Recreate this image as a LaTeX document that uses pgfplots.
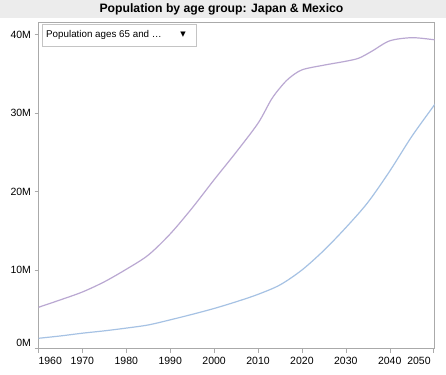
\documentclass[border=0pt]{standalone}
\usepackage{fontspec}
\setmainfont{Liberation Sans}
\newfontfamily\symfont{DejaVu Sans}
\usepackage{pgfplots}
\pgfplotsset{compat=1.18}
\definecolor{jpn}{RGB}{186,168,210}
\definecolor{mex}{RGB}{166,194,228}
\definecolor{band}{RGB}{236,236,236}
\definecolor{frame}{RGB}{170,170,170}
\begin{document}
\begin{tikzpicture}[x=1pt,y=1pt]
\useasboundingbox (0,0) rectangle (446,374);
\fill[white] (0,0) rectangle (446,374);
\fill[band] (0,356) rectangle (446,374);
\node[font=\fontsize{12.2}{14}\selectfont\bfseries] at (221.5,365) {Population by age group: Japan \& Mexico};
\begin{axis}[
  at={(38.5pt,25.5pt)}, anchor=south west,
  width=396pt, height=326.5pt, scale only axis,
  xmin=1960, xmax=2050.2, ymin=0, ymax=41.6,
  axis line style={frame}, 
  tick style={frame, thin},
  tick align=outside, major tick length=4pt,
  xtick={1960,1970,1980,1990,2000,2010,2020,2030,2040,2050},
  xticklabels={\makebox[0pt][l]{1960},1970,1980,1990,2000,2010,2020,2030,2040,\makebox[0pt][r]{2050\hspace{3pt}}},
  ytick={10,20,30,40},
  yticklabels={10M,20M,30M,40M},
  extra y ticks={0},
  extra y tick labels={0M},
  extra y tick style={yticklabel style={yshift=6pt}},
  xtick pos=bottom, ytick pos=left,
  tick label style={font=\fontsize{10.5}{12}\selectfont, text=black},
  /pgf/number format/assume math mode=true,
  xticklabel style={yshift=-1pt},
  yticklabel style={xshift=0pt},
  clip=true,
]
\addplot[jpn, line width=1.2pt, smooth, tension=0.5] coordinates {
(1960,5.25) (1965,6.2) (1970,7.2) (1975,8.5) (1980,10.1) (1985,11.9)
(1990,14.6) (1995,17.9) (2000,21.5) (2005,25.0) (2010,28.7) (2013,31.7)
(2015,33.2) (2017,34.4) (2020,35.5) (2025,36.1) (2030,36.6) (2033,37.0)
(2036,37.9) (2040,39.2) (2045,39.6) (2050,39.35) (2050.2,39.34)
};
\addplot[mex, line width=1.2pt, smooth, tension=0.5] coordinates {
(1960,1.3) (1965,1.6) (1970,1.95) (1975,2.25) (1980,2.6) (1985,3.0)
(1990,3.65) (1995,4.35) (2000,5.1) (2005,5.95) (2010,6.9) (2015,8.1)
(2020,10.0) (2025,12.5) (2030,15.4) (2035,18.6) (2040,22.6) (2045,27.0)
(2050,30.9) (2050.2,31.05)
};
\end{axis}
\draw[frame!70, fill=white] (42,328) rectangle (196,349.5);
\node[anchor=west, font=\fontsize{9.8}{11}\selectfont, inner sep=0pt] at (46,338.75) {Population ages 65 and \dots};
\node[font=\symfont\fontsize{7}{8}\selectfont, inner sep=0pt] at (183,339.5) {▼};
\end{tikzpicture}
\end{document}
